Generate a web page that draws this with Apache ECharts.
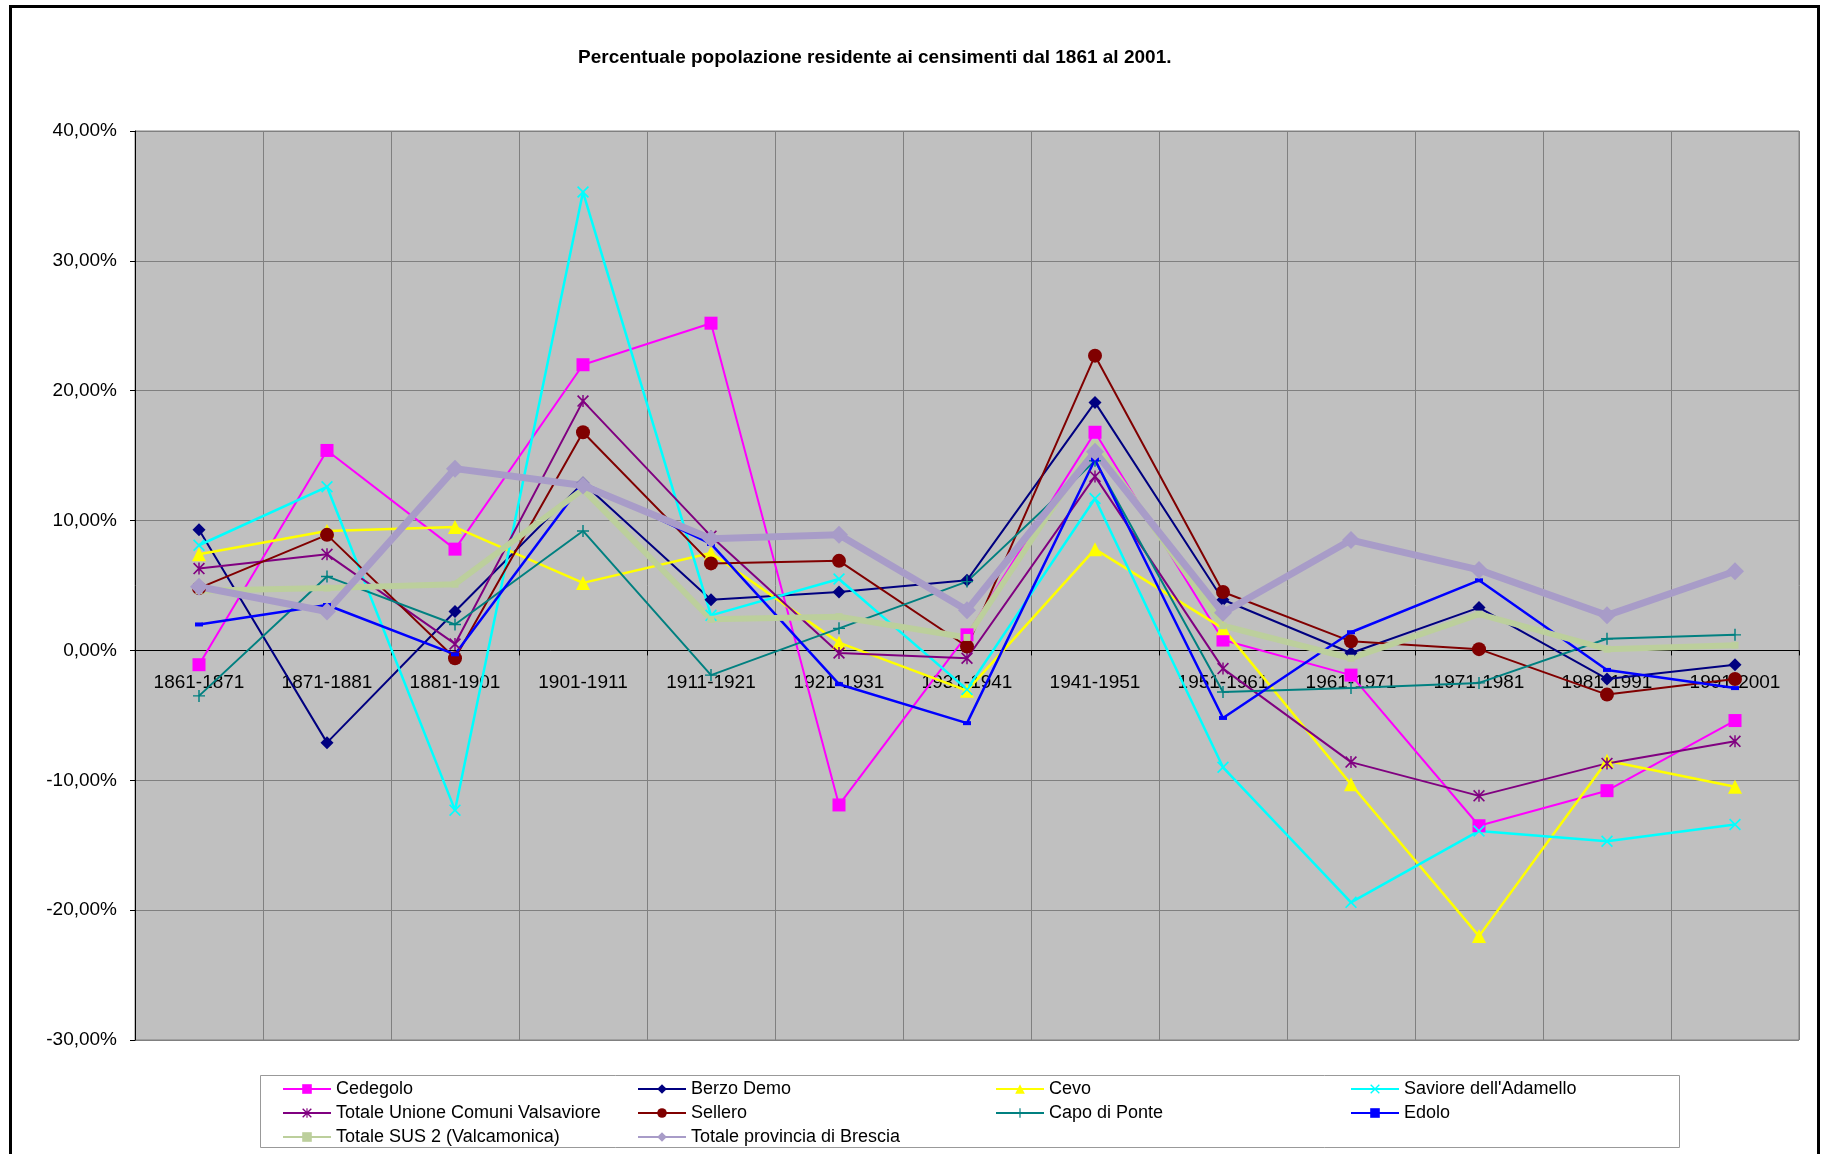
<!DOCTYPE html>
<html>
<head>
<meta charset="utf-8">
<title>Percentuale popolazione residente</title>
<script src="https://cdn.jsdelivr.net/npm/echarts@6/dist/echarts.min.js"></script>
<style>
  html, body { margin: 0; padding: 0; background: #fff; overflow: hidden; }
  #frame { position: absolute; left: 9px; top: 5px; width: 1811px; height: 1200px; border: 3px solid #000; box-sizing: border-box; }
  #chart { position: absolute; left: 0; top: 0; width: 1823px; height: 1154px; }
</style>
</head>
<body>
<div id="frame"></div>
<div id="chart"></div>
<script>
// periodi intercensuari
const periods = ['1861-1871', '1871-1881', '1881-1901', '1901-1911', '1911-1921', '1921-1931', '1931-1941',
  '1941-1951', '1951-1961', '1961-1971', '1971-1981', '1981-1991', '1991-2001']

// variazioni percentuali
const cedegolo = [-1.1, 15.4, 7.8, 22.0, 25.2, -11.9, 1.2, 16.8, 0.8, -1.9, -13.5, -10.8, -5.4]
const berzoDemo = [9.3, -7.1, 3.0, 12.9, 3.9, 4.5, 5.4, 19.1, 3.9, -0.2, 3.3, -2.2, -1.1]
const cevo = [7.4, 9.2, 9.5, 5.2, 7.5, 0.6, -3.1, 7.8, 1.7, -10.3, -22.0, -8.5, -10.5]
const saviore = [8.1, 12.6, -12.3, 35.3, 2.7, 5.5, -3.0, 11.7, -9.0, -19.4, -13.9, -14.7, -13.4]
const totaleUnione = [6.3, 7.4, 0.5, 19.2, 8.8, -0.2, -0.6, 13.4, -1.4, -8.6, -11.2, -8.7, -7.0]
const sellero = [4.8, 8.9, -0.6, 16.8, 6.7, 6.9, 0.3, 22.7, 4.5, 0.7, 0.1, -3.4, -2.2]
const capoDiPonte = [-3.5, 5.7, 2.0, 9.2, -1.9, 1.7, 5.3, 14.6, -3.2, -2.9, -2.5, 0.9, 1.2]
const edolo = [2.0, 3.5, -0.3, 12.9, 8.2, -2.6, -5.6, 14.7, -5.2, 1.4, 5.4, -1.5, -2.9]
const totaleSus2 = [4.6, 4.8, 5.1, 12.4, 2.4, 2.6, 1.0, 15.9, 1.9, -0.6, 2.8, 0.1, 0.4]
const totaleBrescia = [4.9, 3.0, 14.0, 12.7, 8.6, 8.9, 3.1, 15.3, 2.9, 8.5, 6.2, 2.7, 6.1]

const yTicks = [-30, -20, -10, 0, 10, 20, 30, 40]

// marker stile Excel
const xMark = 'path://M0,1L1,0L5,4L9,0L10,1L6,5L10,9L9,10L5,6L1,10L0,9L4,5Z'
const starMark = xMark + 'M4.4,0L5.6,0L5.6,10L4.4,10Z'
const plusMark = 'path://M4.4,0L5.6,0L5.6,4.4L10,4.4L10,5.6L5.6,5.6L5.6,10L4.4,10L4.4,5.6L0,5.6L0,4.4L4.4,4.4Z'
const dashMark = 'path://M0,0L10,0L10,6L0,6Z'

const font = '"Liberation Sans", Arial, sans-serif'

// geometria del plot (px)
const plotTop = 131
const plotHeight = 909

function line(name, data, color, symbol, size, width) {
  return {
    name: name,
    type: 'line',
    data: data,
    symbol: symbol,
    symbolSize: size,
    showSymbol: true,
    itemStyle: { color: color },
    lineStyle: { color: color, width: width },
    emphasis: { disabled: true }
  }
}

const legendCommon = {
  orient: 'vertical',
  top: 1080,
  padding: 0,
  itemWidth: 48,
  itemHeight: 12,
  itemGap: 6,
  selectedMode: false,
  textStyle: { fontSize: 18, color: '#000', fontFamily: font, lineHeight: 18 }
}

const yMin = yTicks[0]
const yMax = yTicks[yTicks.length - 1]
// la linea delle categorie sta sullo zero
const zeroOffset = -plotHeight * (0 - yMin) / (yMax - yMin)

const chart = echarts.init(document.getElementById('chart'))
chart.setOption({
  animation: false,
  title: {
    text: 'Percentuale popolazione residente ai censimenti dal 1861 al 2001.',
    left: 573,
    top: 43,
    textStyle: { fontSize: 19, fontWeight: 'bold', color: '#000', fontFamily: font }
  },
  grid: {
    left: 135,
    top: plotTop,
    width: 1664,
    height: plotHeight,
    show: true,
    backgroundColor: '#c0c0c0',
    borderColor: '#808080',
    borderWidth: 1
  },
  legend: [
    Object.assign({ left: 282, data: ['Cedegolo', 'Totale Unione Comuni Valsaviore', 'Totale SUS 2 (Valcamonica)'] }, legendCommon),
    Object.assign({ left: 637, data: ['Berzo Demo', 'Sellero', 'Totale provincia di Brescia'] }, legendCommon),
    Object.assign({ left: 995, data: ['Cevo', 'Capo di Ponte'] }, legendCommon),
    Object.assign({ left: 1350, data: ["Saviore dell'Adamello", 'Edolo'] }, legendCommon)
  ],
  graphic: [{
    type: 'rect',
    shape: { x: 260.5, y: 1075.5, width: 1419, height: 72 },
    style: { fill: 'none', stroke: '#999', lineWidth: 1 },
    silent: true
  }],
  xAxis: {
    type: 'category',
    data: periods,
    boundaryGap: true,
    offset: zeroOffset,
    axisLine: { onZero: false, lineStyle: { color: '#000', width: 1 } },
    axisTick: { show: true, interval: 0, length: 5, lineStyle: { color: '#000' } },
    axisLabel: { interval: 0, margin: 23, fontSize: 19, color: '#000', fontFamily: font },
    splitLine: { show: true, interval: 0, lineStyle: { color: '#808080', width: 1 } }
  },
  yAxis: {
    type: 'value',
    min: yMin,
    max: yMax,
    interval: 10,
    axisLine: { show: true, lineStyle: { color: '#000', width: 1 } },
    axisTick: { show: true, length: 5, lineStyle: { color: '#000' } },
    axisLabel: {
      margin: 18,
      fontSize: 19,
      color: '#000',
      fontFamily: font,
      formatter: v => v.toFixed(2).replace('.', ',') + '%'
    },
    splitLine: { show: true, lineStyle: { color: '#808080', width: 1 } }
  },
  series: [
    line('Cedegolo', cedegolo, '#ff00ff', 'rect', 13, 2),
    line('Berzo Demo', berzoDemo, '#000080', 'diamond', 13, 2),
    line('Cevo', cevo, '#ffff00', 'triangle', 14, 2.5),
    line("Saviore dell'Adamello", saviore, '#00ffff', xMark, 12, 2.5),
    line('Totale Unione Comuni Valsaviore', totaleUnione, '#800080', starMark, 12, 2),
    line('Sellero', sellero, '#800000', 'circle', 14, 2),
    line('Capo di Ponte', capoDiPonte, '#008080', plusMark, 12, 2),
    line('Edolo', edolo, '#0000ff', dashMark, [8, 4], 2.5),
    line('Totale SUS 2 (Valcamonica)', totaleSus2, '#bccf9c', 'rect', 7, 6),
    line('Totale provincia di Brescia', totaleBrescia, '#a89cc8', 'diamond', 18, 7)
  ]
})
</script>
</body>
</html>
